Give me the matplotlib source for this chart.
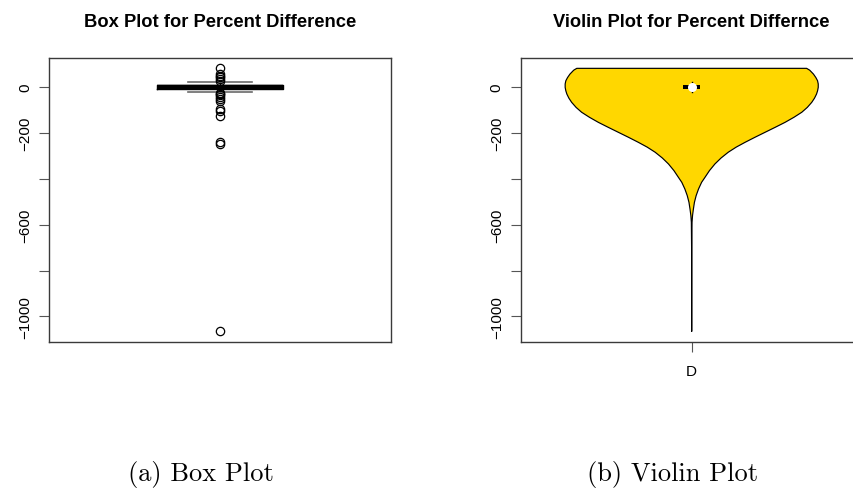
import matplotlib
matplotlib.use("Agg")
import matplotlib.pyplot as plt
import numpy as np

# ---- data -------------------------------------------------------------
# Box plot summary of percent difference
median = 0.0
q1, q3 = -9.0, 9.0
whisker_low, whisker_high = -22.0, 22.0
outliers = [81, 55, 48, 41, 33, 26, -26, -32, -38, -46, -53, -60,
            -97, -104, -126, -242, -249, -1065]

# Violin outline: value levels and half-widths of the density shape
violin_levels = [80, 72, 55, 40, 26, 12, -3, -18, -32, -50, -68, -90, -111,
                 -133, -155, -176, -198, -220, -242, -263, -285, -310, -336,
                 -365, -394, -416, -445, -474, -503, -532, -560, -590, -700,
                 -1065]
violin_halfwidth = [0.336, 0.345, 0.356, 0.363, 0.368, 0.370, 0.370, 0.368,
                    0.365, 0.359, 0.351, 0.338, 0.322, 0.299, 0.273, 0.245,
                    0.215, 0.185, 0.156, 0.130, 0.107, 0.086, 0.068, 0.052,
                    0.039, 0.029, 0.020, 0.013, 0.008, 0.005, 0.0025, 0.001,
                    0.0003, 0.0]

y_ticks = [0, -200, -400, -600, -800, -1000]
y_tick_labels = ["0", "\u2212200", "", "\u2212600", "", "\u22121000"]
violin_group = "D"

titles = ["Box Plot for Percent Difference", "Violin Plot for Percent Differnce"]
captions = ["(a) Box Plot", "(b) Violin Plot"]

# ---- figure -----------------------------------------------------------
W, H = 854, 489
fig = plt.figure(figsize=(W / 100, H / 100), dpi=100)

sans = "Liberation Sans"
ylim = (-1111, 125)


def style_axes(ax):
    ax.set_xlim(0.5, 1.5)
    ax.set_ylim(*ylim)
    for s in ax.spines.values():
        s.set_color("#3a3a3a")
        s.set_linewidth(1.0)
    ax.set_yticks(y_ticks)
    ax.set_yticklabels(y_tick_labels, rotation=90, va="center",
                       fontsize=11, family=sans)
    ax.tick_params(axis="y", length=7.2, width=0.8, color="#555555", pad=5)


ax1 = fig.add_axes([49 / W, 1 - 343 / H, 342 / W, 284 / H])
ax2 = fig.add_axes([520.7 / W, 1 - 343 / H, 342 / W, 284 / H])

# ---- box plot ---------------------------------------------------------
stats = [dict(med=median, q1=q1, q3=q3, whislo=whisker_low,
              whishi=whisker_high, fliers=outliers)]
ax1.bxp(stats, positions=[1], widths=0.37, capwidths=0.187,
        medianprops=dict(color="black", linewidth=3.2, solid_capstyle="butt"),
        boxprops=dict(color="black", linewidth=1),
        whiskerprops=dict(color="black", linewidth=1, linestyle="--"),
        capprops=dict(color="#6a6a6a", linewidth=1.2),
        flierprops=dict(marker="o", markerfacecolor="none",
                        markeredgecolor="black", markersize=6,
                        markeredgewidth=0.9))
style_axes(ax1)
ax1.set_xticks([])
ax1.set_title(titles[0], fontsize=13.2, fontweight="bold", family=sans,
              pad=23.3)

# ---- violin plot ------------------------------------------------------
lv = np.array(violin_levels, dtype=float)
hw = np.array(violin_halfwidth, dtype=float)
xs = np.concatenate([1 - hw, (1 + hw)[::-1]])
ys = np.concatenate([lv, lv[::-1]])
ax2.fill(xs, ys, facecolor="#FFD700", edgecolor="black", linewidth=0.85,
         joinstyle="round", zorder=2)
ax2.plot([1, 1], [whisker_low, whisker_high], color="black", lw=1, zorder=3)
ax2.fill_between([1 - 0.0245, 1 + 0.0245], q1, q3, color="black",
                 linewidth=0, zorder=4)
ax2.plot([1], [median], marker="o", color="white", markersize=6.5,
         markeredgewidth=0, zorder=5)
style_axes(ax2)
ax2.set_xticks([1])
ax2.set_xticklabels([violin_group], fontsize=11, family=sans)
ax2.tick_params(axis="x", length=7.2, width=0.8, color="#555555", pad=9)
ax2.set_title(titles[1], fontsize=13.2, fontweight="bold", family=sans,
              pad=23.3)

# ---- captions ---------------------------------------------------------
fig.text(200.5 / W, 1 - 480.7 / H, captions[0], family="cmr10",
         fontsize=19, ha="center", va="baseline")
fig.text(672.5 / W, 1 - 480.7 / H, captions[1], family="cmr10",
         fontsize=19, ha="center", va="baseline")

fig.savefig("out.png", dpi=100)
